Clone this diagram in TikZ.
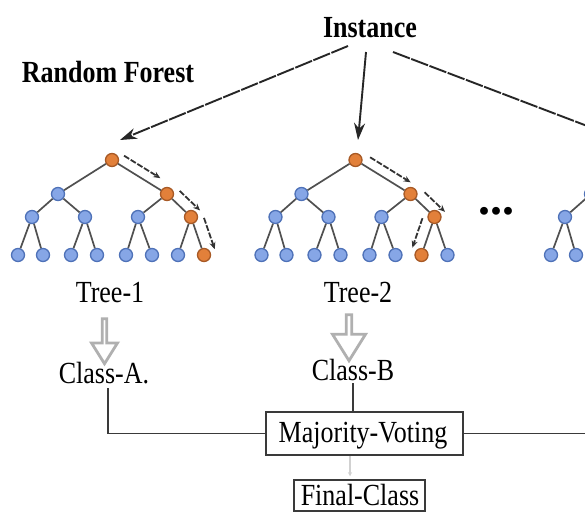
\documentclass[tikz,border=0pt]{standalone}
\usepackage{fontspec}
\setmainfont{Liberation Serif}
\usepackage{graphicx}
\usetikzlibrary{arrows.meta,calc,shapes.arrows}

\definecolor{nodeblue}{HTML}{86A6E6}
\definecolor{nodeblueedge}{HTML}{4F72B8}
\definecolor{nodeorange}{HTML}{E2803A}
\definecolor{nodeorangeedge}{HTML}{A85A26}
\definecolor{edgegray}{HTML}{505050}
\definecolor{hollowgray}{HTML}{B0B0B0}
\definecolor{inkgray}{HTML}{3A3A3A}

% text is set slightly taller than wide
\newcommand\tallbox[1]{\scalebox{1}[1.18]{#1}}

\tikzset{
  tnode/.style={circle, draw=nodeblueedge, fill=nodeblue, line width=1.3pt,
                minimum size=13pt, inner sep=0pt},
  hot/.style={draw=nodeorangeedge, fill=nodeorange},
  tedge/.style={draw=edgegray, line width=1.7pt},
  walk/.style={draw=black!80, line width=1.8pt, dash pattern=on 6pt off 1.8pt,
               -{Stealth[length=7pt,width=6pt]}},
  feed/.style={draw=black!85, line width=1.9pt, -{Stealth[length=17pt,width=11pt]}},
  feeddash/.style={feed, dash pattern=on 18pt off 1.5pt},
  lbl/.style={font=\fontsize{26}{30}\selectfont, inner sep=0pt, anchor=base},
  boldlbl/.style={lbl, font=\fontsize{26}{30}\selectfont\bfseries},
  votebox/.style={draw=inkgray, line width=1.5pt, inner sep=0pt},
  wire/.style={draw=inkgray, line width=1.5pt},
  hollow/.style={single arrow, draw=hollowgray, line width=2.8pt, fill=white,
                 rotate=-90, inner sep=0pt, single arrow tip angle=64},
  % highlighted decision paths
  ta-1/.style=hot, ta-3/.style=hot, ta-7/.style=hot, ta-15/.style=hot,
  tb-1/.style=hot, tb-3/.style=hot, tb-7/.style=hot, tb-14/.style=hot,
}

% a complete binary tree of depth 3, heap numbered, root at (#2,160)
\newcommand\binarytree[2]{%
  \foreach \i/\dx/\dy in {1/0/0, 2/-54/34, 3/55/34,
      4/-80/57, 5/-27/57, 6/26/57, 7/79/57,
      8/-94/95, 9/-69/95, 10/-41/95, 11/-15/95,
      12/14/95, 13/40/95, 14/66/95, 15/92/95}
    \node[tnode, #1-\i/.try] (#1-\i) at (#2+\dx, 160+\dy) {};
  \foreach \p/\c in {1/2, 1/3, 2/4, 2/5, 3/6, 3/7, 4/8, 4/9,
      5/10, 5/11, 6/12, 6/13, 7/14, 7/15}
    \draw[tedge] (#1-\p) -- (#1-\c);
}

\begin{document}
\begin{tikzpicture}[x=1pt, y=-1pt]
  \useasboundingbox (0,0) rectangle (585,512);
  \clip (0,0) rectangle (585,512);
  \fill[white] (0,0) rectangle (585,512);

  % titles
  \node[boldlbl] (inst) at (370,37) {\tallbox{Instance}};
  \node[boldlbl] (rf) at (108,82) {\tallbox{Random Forest}};

  % the trees
  \binarytree{ta}{112}
  \binarytree{tb}{355.5}
  \binarytree{tc}{645}

  \node[boldlbl, font=\fontsize{48}{50}\selectfont\bfseries] (dots) at (496,214.5) {...};

  % instance sent to every tree
  \draw[feeddash] ([xshift=-22pt,yshift=-9pt]inst.base) -- ([shift={(8,-20)}]ta-1.center);
  \draw[feed]     ([xshift=-4pt,yshift=-15pt]inst.base) -- ([shift={(2.5,-20)}]tb-1.center);
  \draw[feeddash] ([xshift=23pt,yshift=-15pt]inst.base) -- ([shift={(-21,-20)}]tc-1.center);

  % decision paths, tree 1
  \draw[walk, shorten <=8pt, shorten >=14pt]
    ($(ta-1)!10pt!90:(ta-3)$) -- ($(ta-3)!10pt!-90:(ta-1)$);
  \draw[walk, shorten <=7pt, shorten >=-2pt]
    ($(ta-3)!11pt!90:(ta-7)$) -- ($(ta-7)!11pt!-90:(ta-3)$);
  \draw[walk, shorten <=5pt, shorten >=2pt]
    ($(ta-7)!12pt!90:(ta-15)$) -- ($(ta-15)!12pt!-90:(ta-7)$);

  % decision paths, tree 2
  \draw[walk, shorten <=11pt, shorten >=6pt]
    ($(tb-1)!10pt!90:(tb-3)$) -- ($(tb-3)!10pt!-90:(tb-1)$);
  \draw[walk, shorten <=9pt, shorten >=-4pt]
    ($(tb-3)!11pt!90:(tb-7)$) -- ($(tb-7)!11pt!-90:(tb-3)$);
  \draw[walk, shorten <=5pt, shorten >=4pt]
    ($(tb-7)!11pt!-90:(tb-14)$) -- ($(tb-14)!11pt!90:(tb-7)$);

  % tree labels and their votes
  \node[lbl] (t1) at (110,302) {\tallbox{Tree-1}};
  \node[lbl] (t2) at (358,302) {\tallbox{Tree-2}};

  \node[hollow, minimum height=45pt, minimum width=26pt,
        single arrow head extend=7pt] (v1) at (104.5,339.5) {};
  \node[hollow, minimum height=46pt, minimum width=33pt,
        single arrow head extend=7pt] (v2) at (349,335.5) {};

  \node[lbl] (ca) at (104,383) {\tallbox{Class-A.}};
  \node[lbl] (cb) at (353,380) {\tallbox{Class-B}};

  % voting
  \node[votebox, minimum width=197pt, minimum height=43pt] (mv) at (364.5,433.5) {};
  \node[lbl] (mvt) at (363,442) {\tallbox{Majority-Voting}};
  \node[votebox, minimum width=131pt, minimum height=31pt] (fc) at (359.5,495.5) {};
  \node[lbl] (fct) at (360,505) {\tallbox{Final-Class}};

  \coordinate (rightend) at (600,432);
  \coordinate (downx) at (350,0);

  \draw[wire] ([xshift=4pt,yshift=-5pt]ca.base) |- (mv.west);
  \draw[wire] ([yshift=-3pt]cb.base) -- (cb.base |- mv.north);
  \draw[wire] (mv.east) -- (mv.east -| rightend);
  \draw[draw=black!18, line width=1.2pt, -{Stealth[length=4pt,width=4pt]}]
    (mv.south -| downx) -- ([yshift=3pt]fc.north -| downx);
\end{tikzpicture}
\end{document}
